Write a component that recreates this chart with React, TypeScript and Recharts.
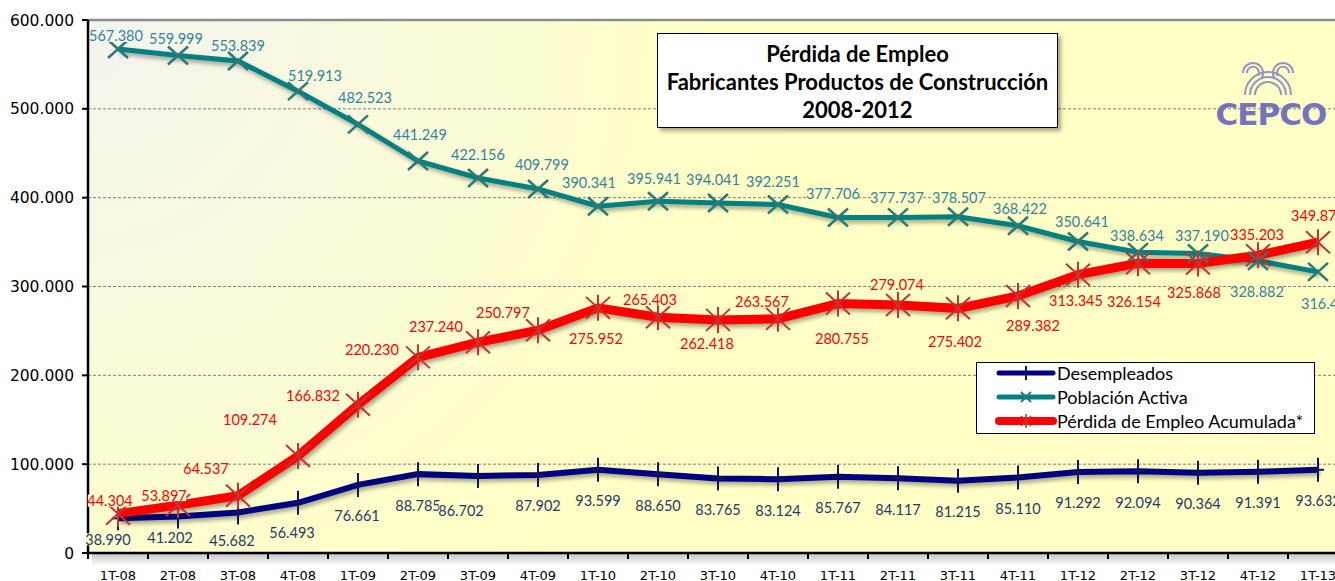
import React from 'react'
import {
  LineChart,
  Line,
  XAxis,
  YAxis,
  CartesianGrid,
  ReferenceLine,
  LabelList,
  Legend,
} from 'recharts'

const quarters = [
  '1T-08', '2T-08', '3T-08', '4T-08', '1T-09', '2T-09', '3T-09', '4T-09',
  '1T-10', '2T-10', '3T-10', '4T-10', '1T-11', '2T-11', '3T-11', '4T-11',
  '1T-12', '2T-12', '3T-12', '4T-12', '1T-13',
]

const desempleados = [
  38990, 41202, 45682, 56493, 76661, 88785, 86702, 87902, 93599, 88650, 83765,
  83124, 85767, 84117, 81215, 85110, 91292, 92094, 90364, 91391, 93632,
]

const poblacionActiva = [
  567380, 559999, 553839, 519913, 482523, 441249, 422156, 409799, 390341, 395941,
  394041, 392251, 377706, 377737, 378507, 368422, 350641, 338634, 337190, 328882,
  316450,
]

const perdidaAcumulada = [
  44304, 53897, 64537, 109274, 166832, 220230, 237240, 250797, 275952, 265403,
  262418, 263567, 280755, 279074, 275402, 289382, 313345, 326154, 325868, 335203,
  349870,
]

const yTicks = [0, 100000, 200000, 300000, 400000, 500000, 600000]

// label nudges [dx, dy] relative to each point
const desempNudge: number[][] = [
  [-10, 21], [-8, 21], [-6, 28], [-6, 30], [-1, 31], [0, 31], [-17, 35],
]
const poblacionNudge: number[][] = [
  [-2, -13], [-2, -17], [0, -16], [17, -16], [7, -27], [2, -27], [0, -23],
  [4, -24], [-9, -24], [-4, -23], [-5, -23], [-5, -23], [-5, -24], [-1, -20],
  [1, -19], [2, -17], [4, -20], [-1, -17], [4, -18], [-1, 31], [10, 32],
]
const perdidaNudge: number[][] = [
  [-8, -13], [-14, -10], [-32, -27], [-48, -36], [-45, -9], [-46, -8], [-42, -16],
  [-35, -18], [-2, 31], [-8, -18], [-11, 24], [-16, -17], [4, 35], [-1, -21],
  [-3, 33], [15, 30], [-2, 26], [-4, 38], [-4, 29], [-1, -21], [0, -27],
]

const data = quarters.map((q, i) => ({
  q,
  desempleados: desempleados[i],
  poblacion: poblacionActiva[i],
  perdida: perdidaAcumulada[i],
}))

const NAVY = '#000080'
const TEAL = '#008080'
const RED = '#ff0000'

function fmt(v: number): string {
  return String(Math.round(v)).replace(/\B(?=(\d{3})+(?!\d))/g, '.')
}

const makeLabel = (color: string, nudges: number[][], fallback: number[], series: number[]) =>
  (props: any) => {
    const x = props.x ?? props.viewBox?.x
    const y = props.y ?? props.viewBox?.y
    if (x == null || y == null) return null
    let idx = props.index
    if (idx == null) idx = series.indexOf(props.value)
    const [dx, dy] = nudges[idx] ?? fallback
    const cx = x + dx
    const cy = y + dy
    const text = fmt(props.value)
    const w = text.length * 7.4
    return (
      <g key={`lbl-${idx}`}>
        <rect x={cx - w / 2} y={cy - 6} width={w} height={12} fill="url(#plotBg)" />
        <text
          x={cx}
          y={cy}
          textAnchor="middle"
          dominantBaseline="central"
          fill={color}
          fontSize={14.5}
          fontFamily="Lato"
        >
          {text}
        </text>
      </g>
    )
  }

const PlusDot = (p: any) => (
  <g key={`d-${p.index}`}>
    <line x1={p.cx} y1={p.cy - 12} x2={p.cx} y2={p.cy + 12} stroke="#14145e" strokeWidth={2} />
    <line x1={p.cx - 6} y1={p.cy} x2={p.cx + 6} y2={p.cy} stroke="#14145e" strokeWidth={2} />
  </g>
)

const CrossDot = (p: any) => (
  <g key={`p-${p.index}`}>
    <line x1={p.cx - 10} y1={p.cy - 9} x2={p.cx + 10} y2={p.cy + 9} stroke="#2a7a78" strokeWidth={2.5} />
    <line x1={p.cx - 10} y1={p.cy + 9} x2={p.cx + 10} y2={p.cy - 9} stroke="#2a7a78" strokeWidth={2.5} />
  </g>
)

const StarDot = (p: any) => (
  <g key={`s-${p.index}`}>
    <line x1={p.cx - 12} y1={p.cy - 11} x2={p.cx + 12} y2={p.cy + 11} stroke="#c8322e" strokeWidth={2} />
    <line x1={p.cx - 12} y1={p.cy + 11} x2={p.cx + 12} y2={p.cy - 11} stroke="#c8322e" strokeWidth={2} />
    <line x1={p.cx} y1={p.cy - 13} x2={p.cx} y2={p.cy + 13} stroke="#c8322e" strokeWidth={2} />
  </g>
)

const QuarterTick = (props: any) => {
  const { x, y, payload } = props
  return (
    <g>
      <line x1={x - 30} y1={y - 8} x2={x - 30} y2={y - 2} stroke="#000" strokeWidth={2} />
      <text x={x} y={y + 14} textAnchor="middle" dominantBaseline="central" fontSize={13} fontFamily="DejaVu Sans" fill="#000">
        {payload.value}
      </text>
    </g>
  )
}

const legendRows = [
  { name: 'Desempleados', color: NAVY, width: 5, mark: 'plus' },
  { name: 'Población Activa', color: TEAL, width: 5, mark: 'cross' },
  { name: 'Pérdida de Empleo Acumulada*', color: RED, width: 8, mark: 'star' },
]

const LegendBox = () => (
  <div
    style={{
      width: 337,
      height: 70,
      border: '1px solid #000',
      background: '#fff',
      fontFamily: 'Lato',
      fontSize: 18,
      color: '#000',
      boxSizing: 'content-box',
    }}
  >
    <div style={{ position: 'relative', top: -2 }}>
      {legendRows.map((r) => (
        <div key={r.name} style={{ display: 'flex', alignItems: 'center', height: 24 }}>
          <svg width={80} height={24} style={{ flex: 'none' }}>
            <line x1={22} y1={12} x2={76} y2={12} stroke={r.color} strokeWidth={r.width} strokeLinecap="round" />
            {r.mark === 'plus' && <line x1={49} y1={5} x2={49} y2={19} stroke="#14145e" strokeWidth={2} />}
            {r.mark === 'cross' && (
              <g stroke="#2a7a78" strokeWidth={2}>
                <line x1={44} y1={7} x2={54} y2={17} />
                <line x1={44} y1={17} x2={54} y2={7} />
              </g>
            )}
            {r.mark === 'star' && (
              <g stroke="#c8322e" strokeWidth={1.5}>
                <line x1={44} y1={7} x2={54} y2={17} />
                <line x1={44} y1={17} x2={54} y2={7} />
                <line x1={49} y1={5} x2={49} y2={19} />
              </g>
            )}
          </svg>
          <span style={{ whiteSpace: 'nowrap' }}>{r.name}</span>
        </div>
      ))}
    </div>
  </div>
)

export default function App() {
  return (
    <div
      style={{
        position: 'absolute',
        left: 0,
        top: 0,
        width: 1335,
        height: 581,
        overflow: 'hidden',
        background: '#fff',
      }}
    >
      <style>{`.shadowLine .recharts-line-curve { filter: drop-shadow(2px 3px 2px rgba(0,0,0,0.35)); }`}</style>
      <div
        style={{
          position: 'absolute',
          left: 92,
          top: 554,
          width: 1260,
          height: 12,
          background: 'linear-gradient(to bottom, rgba(0,0,0,0.22), rgba(0,0,0,0))',
        }}
      />
      <div style={{ position: 'absolute', left: 0, top: 0 }}>
        <LineChart width={1350} height={581} data={data} margin={{ top: 20, right: 2, bottom: 0, left: 0 }}>
          <defs>
            <radialGradient id="plotBg" gradientUnits="userSpaceOnUse" cx={88} cy={20} r={700}>
              <stop offset="0" stopColor="#f3f3ef" />
              <stop offset="0.45" stopColor="#fafadc" />
              <stop offset="0.85" stopColor="#ffffc9" />
              <stop offset="1" stopColor="#ffffc6" />
            </radialGradient>
          </defs>
          <CartesianGrid
            vertical={false}
            stroke="#7f7f7f"
            strokeDasharray="3 2"
            fill="url(#plotBg)"
            fillOpacity={1}
          />
          <ReferenceLine y={600000} stroke="#8c8c8c" strokeWidth={2.5} />
          <XAxis
            dataKey="q"
            height={28}
            padding={{ left: 30, right: 30 }}
            axisLine={{ stroke: '#000', strokeWidth: 2.5 }}
            tickLine={false}
            tick={<QuarterTick />}
            interval={0}
          />
          <YAxis
            width={88}
            domain={[0, 600000]}
            ticks={yTicks}
            tickFormatter={fmt}
            axisLine={{ stroke: '#000', strokeWidth: 2.5 }}
            tickLine={{ stroke: '#000', strokeWidth: 2 }}
            tickSize={6}
            tickMargin={8}
            tick={{ fill: '#000', fontSize: 15.5, fontFamily: 'DejaVu Sans' }}
          />
          <Legend
            layout="horizontal"
            verticalAlign="middle"
            align="center"
            wrapperStyle={{ left: 976, top: 362, width: 339, height: 72 }}
            content={<LegendBox />}
          />
          <Line
            className="shadowLine"
            dataKey="desempleados"
            name="Desempleados"
            stroke={NAVY}
            strokeWidth={6}
            dot={PlusDot}
            activeDot={false}
            isAnimationActive={false}
          >
            <LabelList dataKey="desempleados" content={makeLabel('#1f3a66', desempNudge, [0, 31], desempleados)} />
          </Line>
          <Line
            className="shadowLine"
            dataKey="poblacion"
            name="Población Activa"
            stroke={TEAL}
            strokeWidth={5}
            dot={CrossDot}
            activeDot={false}
            isAnimationActive={false}
          >
            <LabelList dataKey="poblacion" content={makeLabel('#31849b', poblacionNudge, [0, -22], poblacionActiva)} />
          </Line>
          <Line
            className="shadowLine"
            dataKey="perdida"
            name="Pérdida de Empleo Acumulada*"
            stroke={RED}
            strokeWidth={9}
            dot={StarDot}
            activeDot={false}
            isAnimationActive={false}
          >
            <LabelList dataKey="perdida" content={makeLabel('#ff0000', perdidaNudge, [0, -22], perdidaAcumulada)} />
          </Line>
        </LineChart>
      </div>

      <div
        style={{
          position: 'absolute',
          left: 657,
          top: 33,
          width: 401,
          height: 95,
          border: '1px solid #000',
          background: '#fff',
          boxShadow: '3px 3px 4px rgba(0,0,0,0.35)',
          fontFamily: 'Lato',
          fontWeight: 700,
          fontSize: 22,
          lineHeight: '28px',
          textAlign: 'center',
          color: '#000',
          paddingTop: 6,
          boxSizing: 'border-box',
          whiteSpace: 'nowrap',
        }}
      >
        <div>Pérdida de Empleo</div>
        <div>Fabricantes Productos de Construcción</div>
        <div>2008-2012</div>
      </div>

      <div style={{ position: 'absolute', left: 1205, top: 45, width: 130, height: 90 }}>
        <svg width={130} height={90}>
          <g fill="none" stroke="#9494c6" strokeWidth={2}>
            <path d="M 50 50 A 13 13 0 0 1 76 50" />
            <path d="M 45 50 A 18 18 0 0 1 81 50" />
            <path d="M 40 50 A 23 23 0 0 1 86 50" />
            <path d="M 38 28 A 10 10 0 1 1 56 34" />
            <path d="M 42 28 A 6 6 0 1 1 53 31" />
            <path d="M 88 28 A 10 10 0 1 0 70 34" />
            <path d="M 84 28 A 6 6 0 1 0 73 31" />
          </g>
          <text
            x={66}
            y={80}
            textAnchor="middle"
            fontFamily="DejaVu Sans"
            fontWeight={700}
            fontSize={31}
            fill="#7474bc"
            letterSpacing={-1}
          >
            CEPCO
          </text>
        </svg>
      </div>
    </div>
  )
}
